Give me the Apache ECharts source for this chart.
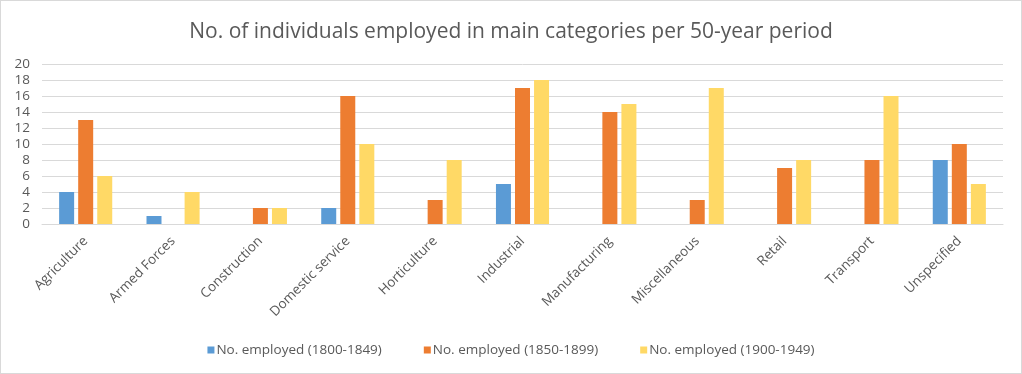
<!DOCTYPE html>
<html>
<head>
<meta charset="utf-8">
<script src="https://cdn.jsdelivr.net/npm/echarts@6/dist/echarts.min.js"></script>
<style>
html,body{margin:0;padding:0;background:#fff;}
#chart{width:1020px;height:372px;border:1px solid #d9d9d9;}
</style>
</head>
<body>
<div id="chart"></div>
<script>
const categories = ["Agriculture","Armed Forces","Construction","Domestic service","Horticulture","Industrial","Manufacturing","Miscellaneous","Retail","Transport","Unspecified"];
const emp1800 = [4,1,0,2,0,5,0,0,0,0,8];
const emp1850 = [13,0,2,16,3,17,14,3,7,8,10];
const emp1900 = [6,4,2,10,8,18,15,17,8,16,5];
const seriesNames = ["No. employed (1800-1849)","No. employed (1850-1899)","No. employed (1900-1949)"];
const colors = ["#5B9BD5","#ED7D31","#FFD966"];
const yTicks = {min:0, max:20, interval:2};

const font = "'Open Sans', sans-serif";
const chart = echarts.init(document.getElementById('chart'));
chart.setOption({
  animation:false,
  color: colors,
  title:{
    text:"No. of individuals employed in main categories per 50-year period",
    left:'center', top:16,
    textStyle:{fontFamily:font, fontSize:21, fontWeight:'normal', color:'#595959'}
  },
  legend:{
    top:337, left:'center',
    itemWidth:7, itemHeight:7, itemGap:42,
    icon:'rect',
    textStyle:{fontFamily:font, fontSize:13.5, color:'#595959', padding:[0,0,0,-3]}
  },
  grid:{left:41, right:18, top:63, bottom:149, containLabel:false},
  xAxis:{
    type:'category', data:categories,
    axisLine:{lineStyle:{color:'#d9d9d9'}},
    axisTick:{show:false},
    axisLabel:{rotate:45, interval:0, margin:15, fontFamily:font, fontSize:13.5, color:'#595959'}
  },
  yAxis:{
    type:'value', min:yTicks.min, max:yTicks.max, interval:yTicks.interval,
    axisLine:{show:false}, axisTick:{show:false},
    axisLabel:{fontFamily:font, fontSize:13.5, color:'#595959', margin:12},
    splitLine:{lineStyle:{color:'#d9d9d9', width:1}}
  },
  series:[emp1800, emp1850, emp1900].map((d,i)=>({
    name:seriesNames[i], type:'bar', data:d,
    barWidth:15, barGap:'27%'
  }))
});
</script>
</body>
</html>
